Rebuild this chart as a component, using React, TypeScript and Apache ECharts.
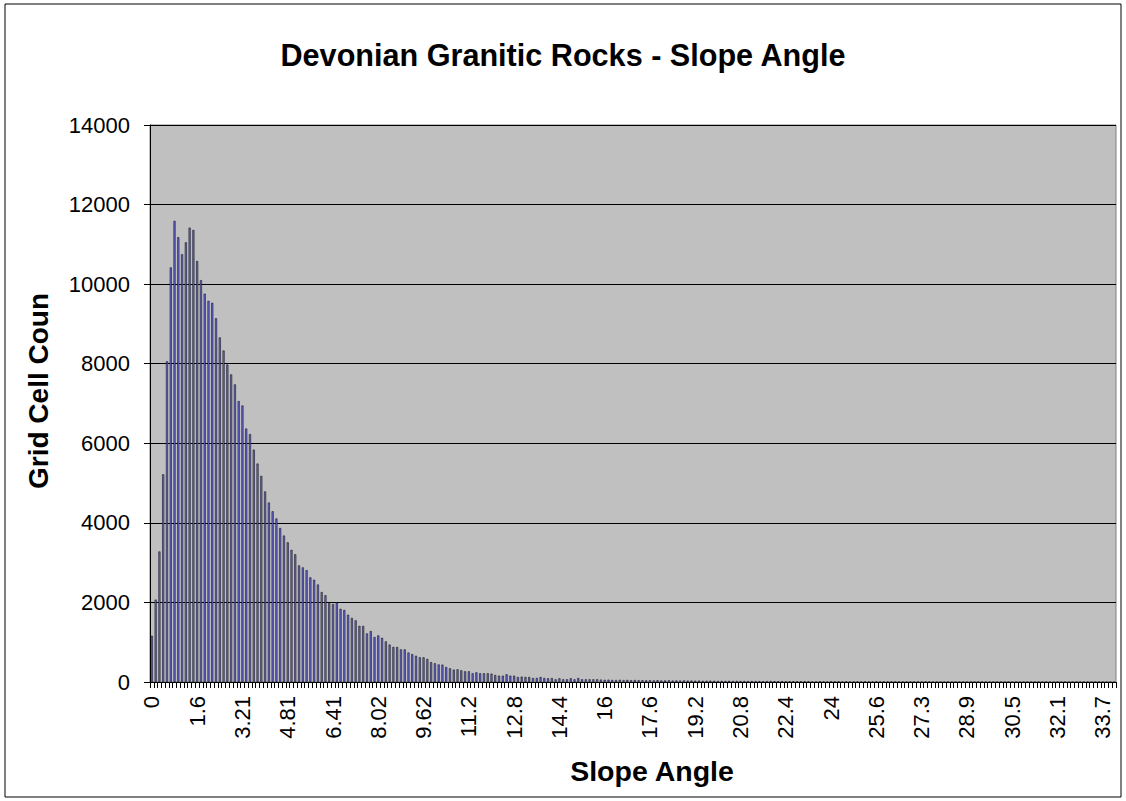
import React, { useEffect, useRef } from "react";
import * as echarts from "echarts";

const TITLE = "Devonian Granitic Rocks - Slope Angle";
const X_NAME = "Slope Angle";
const Y_NAME = "Grid Cell Coun";

// Tick labels shown every 12th category (bins of ~0.1337 degrees)
const tickLabels = [
  "0", "1.6", "3.21", "4.81", "6.41", "8.02", "9.62", "11.2", "12.8", "14.4", "16",
  "17.6", "19.2", "20.8", "22.4", "24", "25.6", "27.3", "28.9", "30.5", "32.1", "33.7",
];
const LABEL_EVERY = 12;

// Grid cell counts per slope bin (256 bins)
const countsHead = [
  1160, 2070, 3280, 5220, 8060, 10420, 11590, 11180, 10750, 11050, 11420, 11360,
  10580, 10100, 9760, 9580, 9530, 9140, 8660, 8330, 7980, 7730, 7480, 7060,
  6950, 6370, 6230, 5840, 5490, 5180, 4790, 4510, 4290, 4110, 3870, 3680,
  3510, 3320, 3210, 2930, 2880, 2810, 2630, 2570, 2450, 2260, 2180, 1980,
  1960, 2000, 1840, 1810, 1690, 1610, 1550, 1410, 1410, 1220, 1280, 1130,
  1170, 1110, 1020, 940, 880, 880, 820, 820, 740, 700, 660, 620,
  620, 580, 500, 470, 440, 436, 377, 344, 310, 318, 293, 268,
  268, 218, 243, 218, 218, 218, 210, 176, 159, 159, 193, 159,
  159, 126, 134, 126, 126, 100, 100, 126, 100, 92, 100, 67,
  92, 67, 67, 92, 67, 100, 67, 67, 67, 67, 67,
];
const countsMid = [
  60, 55, 58, 52, 50, 55, 48, 52, 45, 50, 46, 44,
  42, 45, 40, 44, 38, 40, 42, 36, 38, 35, 40, 34, 36, 33, 35, 30, 32, 34, 30, 28,
];
const countsTail = [
  28, 26, 30, 25, 27, 24, 26, 22, 25, 23, 24, 20, 22, 25, 21, 20, 22, 18, 20, 21,
  19, 18, 20, 17, 8, 5, 18, 16, 10, 17, 15, 16, 14, 15, 13, 14, 12,
  12, 10, 14, 11, 15, 12, 10, 11, 13, 9, 6, 10, 8, 5, 9, 7, 4, 8, 5,
];
const countsEnd = [
  0, 2, 0, 0, 3, 0, 0, 0, 2, 0, 0, 0, 0, 0, 0, 0, 0, 0, 0, 0, 0, 0, 0, 0, 0,
  0, 0, 0, 0, 0, 0, 0, 0, 0, 0, 0, 0, 0, 0, 0, 0, 0, 0, 0, 0, 0, 0, 0, 0,
];

const counts = [...countsHead, ...countsMid, ...countsTail, ...countsEnd];
const categories = counts.map((_, i) =>
  i % LABEL_EVERY === 0 && tickLabels[i / LABEL_EVERY] !== undefined ? tickLabels[i / LABEL_EVERY] : ""
);

const FONT = "'Liberation Sans', Arial, sans-serif";

export default function App() {
  const ref = useRef<HTMLDivElement>(null);
  useEffect(() => {
    document.body.style.margin = "0";
    if (!ref.current) return;
    const chart = echarts.init(ref.current, undefined, { renderer: "svg" });
    chart.setOption({
      animation: false,
      backgroundColor: "#ffffff",
      title: {
        text: TITLE,
        left: "center",
        top: 34,
        textStyle: { fontFamily: FONT, fontSize: 30.6, fontWeight: "bold", color: "#000" },
      },
      grid: {
        left: 150,
        right: 10,
        top: 125,
        bottom: 119,
        show: true,
        backgroundColor: "#c0c0c0",
        borderColor: "#808080",
        borderWidth: 1,
      },
      xAxis: {
        type: "category",
        data: categories,
        axisLine: { lineStyle: { color: "#000", width: 1 } },
        axisTick: { show: true, interval: 0, length: 6, lineStyle: { color: "#000" } },
        axisLabel: {
          interval: LABEL_EVERY - 1,
          rotate: 90,
          margin: 14,
          fontFamily: FONT,
          fontSize: 22,
          color: "#000",
        },
        splitLine: { show: false },
      },
      yAxis: {
        type: "value",
        min: 0,
        max: 14000,
        interval: 2000,
        axisLine: { show: true, lineStyle: { color: "#000", width: 1 } },
        axisTick: { show: true, length: 6, lineStyle: { color: "#000" } },
        axisLabel: {
          margin: 20,
          fontFamily: FONT,
          fontSize: 22,
          color: "#000",
          formatter: (v: number) => String(v),
        },
        splitLine: { show: true, lineStyle: { color: "#000", width: 1 } },
      },
      series: [
        {
          type: "bar",
          data: counts,
          barWidth: 2,
          itemStyle: { color: "#6a6ad8", borderColor: "#000", borderWidth: 0.5 },
        },
      ],
      graphic: [
        {
          type: "rect",
          shape: { x: 5, y: 4, width: 1116, height: 793 },
          style: { fill: "none", stroke: "#000", lineWidth: 1 },
          silent: true,
        },
        {
          type: "text",
          x: 652,
          y: 771,
          style: {
            text: X_NAME,
            align: "center",
            verticalAlign: "middle",
            font: `bold 28.5px ${FONT}`,
            fill: "#000",
          },
          silent: true,
        },
        {
          type: "text",
          x: 38,
          y: 391,
          rotation: Math.PI / 2,
          style: {
            text: Y_NAME,
            align: "center",
            verticalAlign: "middle",
            font: `bold 28px ${FONT}`,
            fill: "#000",
          },
          silent: true,
        },
      ],
    });
    return () => chart.dispose();
  }, []);
  return <div ref={ref} style={{ width: 1126, height: 801 }} />;
}
